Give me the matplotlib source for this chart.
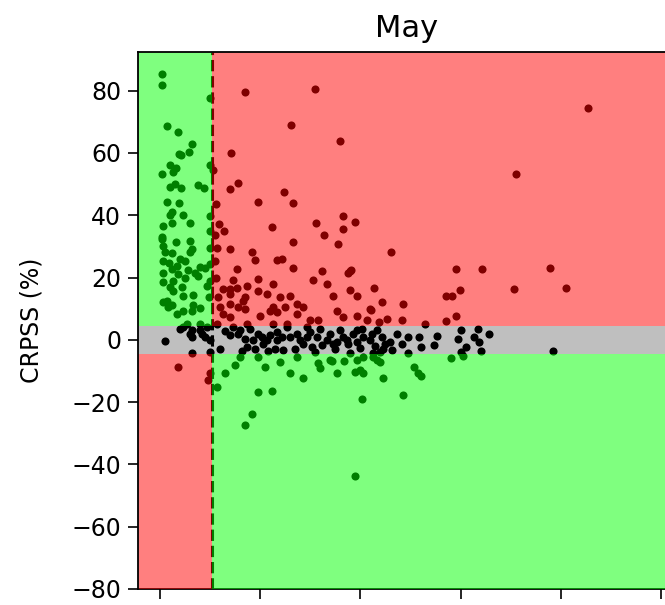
import matplotlib
matplotlib.use("Agg")
import matplotlib.pyplot as plt
from matplotlib.patches import Rectangle
import numpy as np

title = "May"
ylabel = "CRPSS (%)"
y_ticks = [-80, -60, -40, -20, 0, 20, 40, 60, 80]
x_ticks = [0, 100, 200, 300, 400, 500]
x_threshold = 52
band_half = 4.5

# points (x value, CRPSS %)
pts_upper_left = [
    (2, 85.3), (2, 81.9), (7, 68.5), (18, 66.6), (32, 62.9), (29, 60.4), (19, 59.7), (21, 59.4),
    (50, 77.7), (10, 56.2), (16, 55.1), (13, 53.9), (2, 53.3), (50, 56), (10, 49.1), (15, 49.9),
    (21, 48.6), (38, 49.6), (44, 48.8), (7, 44.3), (19, 44.0), (12, 41.0), (10, 40.1), (23, 40.1),
    (50, 39.8), (3, 36.4), (12, 37.5), (30, 37.5), (50, 35.0), (2, 32.9), (2, 32.5), (16, 31.4),
    (30, 31.6), (3, 30.1), (5, 28.3), (12, 27.9), (30, 28.3), (20, 26.1), (3, 25.3), (25, 25.3),
    (9, 24.8), (40, 23.4), (12, 22.6), (28, 22.3), (3, 21.3), (18, 21.0), (35, 21.6), (45, 23.2),
    (13, 19.0), (25, 20.0), (3, 18.4), (10, 16.8), (38, 20.5), (47, 17.4), (13, 15.8), (23, 14.2),
    (33, 14.5), (3, 12.1), (12, 11.3), (33, 11.3), (23, 9.4), (32, 9.4), (40, 10.3), (8, 10.5),
    (17, 8.4), (40, 5.2), (27, 5.2), (50, 29.5), (50, 24.2), (50, 19.0), (49, 13.7), (32, 29),
    (17, 23.7), (22, 16.8), (7, 12.6),
]
pts_upper_right = [
    (85, 79.4), (155, 80.6), (131, 68.9), (71, 60.0), (53, 54.6), (78, 50.5), (70, 48.3), (124, 47.6),
    (133, 43.8), (98, 44.1), (56, 43.5), (59, 37.1), (64, 34.9), (112, 36.2), (156, 37.5), (164, 33.7),
    (427, 74.3), (180, 63.9), (355, 53.3), (183, 39.8), (195, 37.8), (183, 35.6), (133, 31.4),
    (178, 30.6), (70, 29.3), (92, 28.3), (95, 25.6), (122, 25.9), (117, 25.6), (55, 25.3), (77, 22.6),
    (133, 23.2), (162, 22.1), (190, 22.1), (153, 19.3), (98, 19.5), (73, 19.2), (167, 17.9),
    (190, 16.0), (197, 14.2), (113, 17.9), (87, 17.4), (77, 16.5), (70, 16.3), (63, 16.3), (98, 15.8),
    (107, 14.7), (85, 13.7), (83, 12.6), (70, 14.7), (120, 13.7), (130, 14.2), (137, 11.5),
    (143, 10.5), (60, 10.5), (70, 11.5), (78, 10.5), (85, 9.9), (113, 10.5), (125, 10.5), (110, 9.4),
    (117, 8.9), (137, 8.4), (100, 7.8), (63, 8.4), (70, 7.3), (150, 6.3), (158, 6.3), (177, 9.4),
    (183, 7.3), (197, 7.8), (210, 9.9), (207, 6.3), (127, 5.2), (113, 5.2), (87, 5.2), (57, 5.2),
    (55, 33.7), (57, 29.5), (56, 20.0), (58, 13.7), (231, 28.2), (295, 22.6), (321, 22.6),
    (389, 23.2), (188, 21.6), (191, 22.3), (214, 16.6), (173, 14.2), (299, 16.1), (353, 16.3),
    (405, 16.5), (285, 14.0), (291, 14.2), (222, 12.1), (243, 11.5), (211, 9.6), (295, 7.8),
    (219, 5.7), (227, 6.8), (242, 6.3), (264, 5.0), (285, 5.9),
]
pts_band = [
    (5, -0.4), (23, 4.1), (30, 2.0), (32, 0.9), (40, 3.1), (42, 2.0), (45, 0.9), (32, -4.1),
    (50, -3.8), (50, -0.1), (73, 4.1), (78, 2.0), (80, 3.1), (87, -2.2), (90, 3.6), (98, 2.0),
    (102, 0.9), (103, -1.2), (107, -0.1), (110, 1.5), (117, -0.1), (122, 0.9), (123, -3.3),
    (130, 0.9), (137, 2.0), (140, -0.1), (143, -1.2), (147, 0.9), (152, -2.2), (157, 0.9),
    (162, -1.7), (167, -0.1), (170, 2.0), (177, -0.6), (183, 0.9), (188, -1.2), (193, 2.0),
    (197, -0.6), (203, 0.9), (210, -0.1), (217, 3.1), (147, 4.1), (127, 4.1), (20, 3.6), (32, 3.1),
    (47, 4.1), (70, 1.5), (85, 0.4), (93, -0.1), (117, 2.6), (173, -1.2), (187, -0.1), (197, 3.1),
    (202, 3.6), (222, 0.9), (225, -1.2), (230, -0.6), (223, -2.8), (232, -3.3), (242, -1.2),
    (247, 0.9), (247, -4.3), (258, 0.9), (260, -2.2), (273, -1.7), (276, 1.2), (300, 3.1),
    (297, 0.4), (305, -2.2), (300, -3.8), (313, 0.9), (318, -0.6), (320, -3.5), (317, 3.6),
    (328, 1.8), (392, -3.6), (190, -4.3), (213, -4.1), (220, -3.8), (237, 2.0), (212, 2.0),
    (95, -2.8), (108, -3.5), (135, -2.8), (150, 2.6), (160, 3.6), (175, -3.0), (180, 3.0),
    (200, -2.5), (215, -2.0), (155, -3.8), (115, -3.0), (82, -3.6), (60, -3.0), (65, 2.8),
]
pts_lower_right = [
    (172, -6.7), (184, -6.7), (197, -6.5), (203, -5.4), (213, -5.4), (220, -7.0), (177, -10.7),
    (195, -10.2), (203, -10.5), (223, -12.3), (253, -8.6), (257, -10.7), (260, -11.7), (290, -5.7),
    (302, -5.2), (202, -19.1), (243, -17.6), (65, -10.7), (80, -5.4), (98, -5.4), (105, -8.6),
    (120, -7.0), (137, -5.4), (143, -12.3), (158, -7.5), (170, -6.4), (200, -9.6), (217, -6.4),
    (57, -15.3), (98, -16.9), (112, -16.5), (92, -23.9), (85, -27.3), (130, -10.7), (195, -43.8),
    (75, -8.0), (160, -9.0),
]
pts_lower_left = [(18, -8.6), (50, -10.7), (48, -13.0)]

all_pts = pts_upper_left + pts_upper_right + pts_band + pts_lower_right + pts_lower_left
xs = np.array([p[0] for p in all_pts], float)
ys = np.array([p[1] for p in all_pts], float)

fig = plt.figure(figsize=(6.65, 6.05), dpi=100)
ax = fig.add_axes([138 / 665, 16 / 605, (676 - 138) / 665, (589 - 52) / 605])

xlo, xhi = -22, 515
ylo, yhi = -80, 92.4

ax.scatter(xs, ys, s=34, c="black", linewidths=0, zorder=2)
ax.axvline(x_threshold, color="black", ls="--", lw=2.2, zorder=2)

big = 1000
# overlays
ax.add_patch(Rectangle((-big, band_half), x_threshold + big, big, color=(0, 1, 0), alpha=0.5, lw=0, zorder=3))
ax.add_patch(Rectangle((x_threshold, band_half), big, big, color=(1, 0, 0), alpha=0.5, lw=0, zorder=3))
ax.add_patch(Rectangle((-big, -big), x_threshold + big, big - band_half, color=(1, 0, 0), alpha=0.5, lw=0, zorder=3))
ax.add_patch(Rectangle((x_threshold, -big), big, big - band_half, color=(0, 1, 0), alpha=0.5, lw=0, zorder=3))
ax.add_patch(Rectangle((-big, -band_half), 2 * big, 2 * band_half, color=(0, 0, 0), alpha=0.25, lw=0, zorder=3))

ax.set_xlim(xlo, xhi)
ax.set_ylim(ylo, yhi)
ax.set_yticks(y_ticks)
ax.set_xticks(x_ticks)
ax.tick_params(labelsize=17, length=7, width=1.2, pad=5)
ax.tick_params(axis="x", labelbottom=False)
for s in ax.spines.values():
    s.set_linewidth(1.3)
ax.spines["left"].set_zorder(4)
ax.spines["top"].set_zorder(4)

ax.set_title(title, fontsize=22, pad=11)
ax.set_ylabel(ylabel, fontsize=17, labelpad=20)

fig.savefig("out.png", dpi=100)
